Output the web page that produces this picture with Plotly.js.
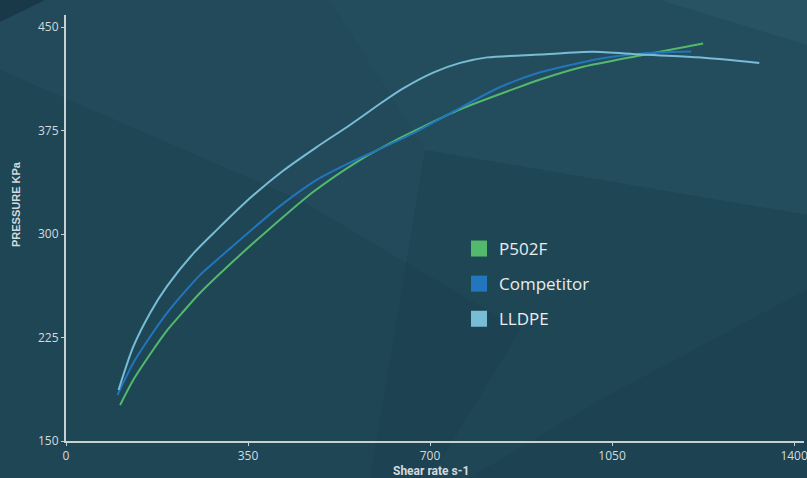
<!DOCTYPE html>
<html>
<head>
<meta charset="utf-8">
<script src="https://cdn.plot.ly/plotly-3.0.1.min.js"></script>
<style>html,body{margin:0;padding:0;background:#224a5a;}#chart{width:807px;height:478px;}</style>
</head>
<body>
<div id="chart"></div>
<script>
// Data
var seriesNames = ['P502F', 'Competitor', 'LLDPE'];
var seriesColors = ['#52b96d', '#2176bd', '#78bcd6'];

var p502fX = [104, 129, 162, 194, 226, 258, 322, 386, 475, 565, 629, 681, 758, 864, 912, 989, 1104, 1225];
var p502fY = [176, 194, 213, 230, 244, 257.4, 280.4, 302, 330.4, 353.6, 367, 376.7, 390.4, 405.5, 412, 420.7, 429.4, 438];

var competitorX = [99, 129, 162, 194, 226, 258, 322, 386, 418, 482, 546, 610, 674, 739, 821, 864, 912, 1021, 1104, 1202];
var competitorY = [183.3, 206.3, 225.7, 242.6, 257.1, 270.4, 291.6, 312.4, 322.2, 339.2, 351.7, 362.8, 374.2, 387.5, 404, 411, 417.2, 426.7, 430.7, 432.2];

var lldpeX = [101, 129, 162, 194, 245, 290, 354, 418, 482, 546, 610, 646, 706, 758, 810, 912, 1013, 1104, 1213, 1333];
var lldpeY = [187, 218, 243, 262, 286, 303, 326, 346, 363, 379, 396, 405, 417, 424, 428, 430, 432, 430, 428, 424];

var xTicks = [0, 350, 700, 1050, 1400];
var yTicks = [150, 225, 300, 375, 450];

var xs = [p502fX, competitorX, lldpeX];
var ys = [p502fY, competitorY, lldpeY];

var traces = [];
for (var i = 0; i < 3; i++) {
  traces.push({
    x: xs[i], y: ys[i], type: 'scatter', mode: 'lines',
    line: {color: seriesColors[i], width: 2, shape: 'spline', smoothing: 0.7},
    showlegend: false, hoverinfo: 'skip'
  });
}
for (var j = 0; j < 3; j++) {
  traces.push({
    x: [null], y: [null], type: 'scatter', mode: 'markers', name: seriesNames[j],
    legendgroup: 'g' + j,
    marker: {symbol: 'square', size: 16, color: seriesColors[j], line: {width: 0}},
    showlegend: true
  });
}

// background polygons (pixel -> paper)
var L = 66, R = 804, T = 15, B = 441;
function px(x) { return (x - L) / (R - L); }
function py(y) { return (B - y) / (B - T); }
function poly(pts, color) {
  var d = pts.map(function (p, k) { return (k ? 'L' : 'M') + px(p[0]) + ',' + py(p[1]); }).join(' ') + ' Z';
  return {type: 'path', xref: 'paper', yref: 'paper', path: d, fillcolor: color, line: {width: 0}, layer: 'below'};
}
var shapes = [
  poly([[0, 70], [300, 200], [520, 330], [430, 478], [0, 478]], 'rgba(20,50,65,0.16)'),
  poly([[0, 0], [45, 0], [0, 22]], 'rgba(15,40,55,0.5)'),
  poly([[330, 0], [807, 0], [807, 215], [425, 150]], 'rgba(45,95,110,0.16)'),
  poly([[660, 0], [807, 0], [807, 45]], 'rgba(60,110,125,0.18)'),
  poly([[425, 150], [807, 215], [807, 290], [600, 400], [470, 478], [370, 478]], 'rgba(20,50,65,0.16)'),
  poly([[600, 400], [807, 290], [807, 478], [470, 478]], 'rgba(15,45,60,0.26)')
];

var tickFont = {family: 'Open Sans, sans-serif', size: 12, color: '#d3dade'};

var layout = {
  width: 807, height: 478,
  margin: {l: L, r: 807 - R, t: T, b: 478 - B},
  paper_bgcolor: '#224a5a', plot_bgcolor: 'rgba(0,0,0,0)',
  showlegend: true,
  legend: {
    x: px(459), y: py(231), xanchor: 'left', yanchor: 'top',
    bgcolor: 'rgba(0,0,0,0)', tracegroupgap: 10,
    font: {family: 'Open Sans, sans-serif', size: 17, color: '#e8edef'}
  },
  xaxis: {
    range: [0, 1419], tickvals: xTicks, ticktext: xTicks.map(String),
    showgrid: false, zeroline: false, showline: true, linecolor: '#c9d0d3', linewidth: 2,
    ticks: 'outside', ticklen: 3, tickcolor: '#c9d0d3', tickfont: tickFont,
    ticklabeloverflow: 'allow'
  },
  yaxis: {
    range: [150, 458.7], tickvals: yTicks, ticktext: yTicks.map(String),
    showgrid: false, zeroline: false, showline: true, linecolor: '#c9d0d3', linewidth: 2,
    ticks: 'outside', ticklen: 3, tickcolor: '#c9d0d3', tickfont: tickFont
  },
  shapes: shapes,
  annotations: [
    {text: '<b>Shear rate s-1</b>', xref: 'paper', yref: 'paper', x: px(431), y: py(471),
     showarrow: false, xanchor: 'center', yanchor: 'middle',
     font: {family: 'Roboto, sans-serif', size: 12, color: '#d3dade'}},
    {text: '<b>PRESSURE KPa</b>', xref: 'paper', yref: 'paper', x: px(16), y: py(204),
     showarrow: false, textangle: -90, xanchor: 'center', yanchor: 'middle',
     font: {family: 'Liberation Sans, Arial, sans-serif', size: 11, color: '#d3dade'}}
  ]
};

Plotly.newPlot('chart', traces, layout, {displayModeBar: false, staticPlot: true});
</script>
</body>
</html>
